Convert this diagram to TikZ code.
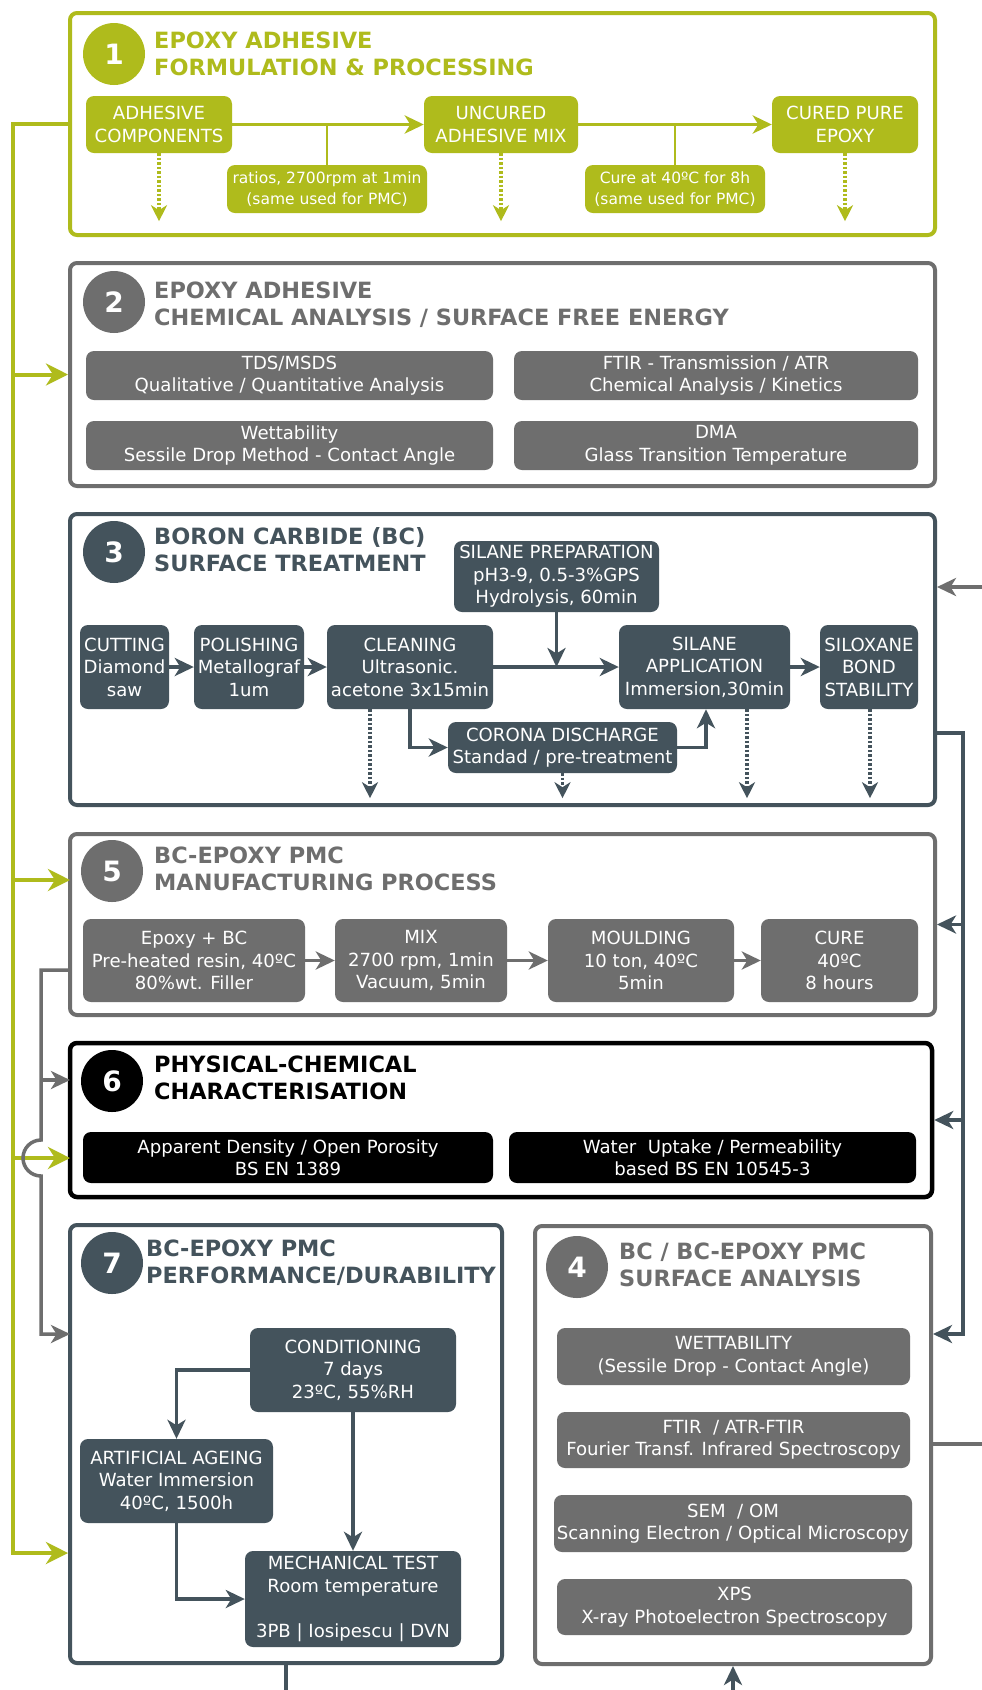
\documentclass[tikz,border=0pt]{standalone}
\usepackage{fontspec}
\setmainfont{DejaVu Sans}
\usetikzlibrary{arrows.meta}
\definecolor{cgreen}{HTML}{AFBB1C}
\definecolor{cgray}{HTML}{6E6E6E}
\definecolor{cslate}{HTML}{44535C}
\tikzset{
 frame/.style={draw, line width=4pt, rounded corners=7pt, fill=white, inner sep=0pt},
 proc/.style={rounded corners=8pt, text=white, align=center, inner sep=0pt, font=\fontsize{18.1}{22.5}\selectfont},
 lbl/.style={proc, font=\fontsize{15.5}{20.5}\selectfont},
 num/.style={circle, text=white, minimum size=62pt, inner sep=0pt, font=\fontsize{28}{28}\selectfont\bfseries},
 ttl/.style={anchor=west, align=left, inner sep=0pt, font=\fontsize{22.4}{27}\selectfont\bfseries},
 tip/.style={-{Stealth[length=19pt,width=18pt,inset=5.5pt]}},
 bigtip/.style={-{Stealth[length=22pt,width=22pt,inset=7pt]}},
 con/.style={line width=3.5pt},
 dotarr/.style={line width=3.5pt, dash pattern=on 2.5pt off 2pt, -{Stealth[length=16pt,width=16pt,inset=5pt]}}
}
\begin{document}
\begin{tikzpicture}[x=1pt,y=-1pt]
\useasboundingbox[fill=white] (0,0) rectangle (982,1690);

% ---------- frames ----------
\node[frame, draw=cgreen, minimum width=865, minimum height=222] (b1) at (502.5,124) {};
\node[frame, draw=cgray, minimum width=865, minimum height=223] (b2) at (502.5,374.5) {};
\node[frame, draw=cslate, minimum width=865, minimum height=291] (b3) at (502.5,659.5) {};
\node[frame, draw=cgray, minimum width=865, minimum height=181] (b5) at (502.5,924.5) {};
\node[frame, draw=black, line width=4.5pt, minimum width=862, minimum height=154] (b6) at (501,1120) {};
\node[frame, draw=cslate, minimum width=432, minimum height=438] (b7) at (286,1444) {};
\node[frame, draw=cgray, minimum width=396, minimum height=438] (b4) at (733,1445) {};

% ---------- headers ----------
\node[num, fill=cgreen] (n1) at (114,54) {1};
\node[ttl, text=cgreen] (t1) at (154,54) {EPOXY ADHESIVE\\FORMULATION \& PROCESSING};
\node[num, fill=cgray] (n2) at (114,302) {2};
\node[ttl, text=cgray] (t2) at (154,305) {EPOXY ADHESIVE\\CHEMICAL ANALYSIS / SURFACE FREE ENERGY};
\node[num, fill=cslate] (n3) at (114,552) {3};
\node[ttl, text=cslate] (t3) at (154,549.5) {BORON CARBIDE (BC)\\SURFACE TREATMENT};
\node[num, fill=cgray] (n5) at (112,871) {5};
\node[ttl, text=cgray] (t5) at (154,869) {BC-EPOXY PMC\\MANUFACTURING PROCESS};
\node[num, fill=black] (n6) at (112,1081) {6};
\node[ttl, text=black] (t6) at (154,1078) {PHYSICAL-CHEMICAL\\CHARACTERISATION};
\node[num, fill=cslate] (n7) at (112,1263) {7};
\node[ttl, text=cslate] (t7) at (146,1263) {BC-EPOXY PMC\\PERFORMANCE/DURABILITY};
\node[num, fill=cgray] (n4) at (577,1267) {4};
\node[ttl, text=cgray] (t4) at (619,1265) {BC / BC-EPOXY PMC\\SURFACE ANALYSIS};

% ---------- box 1 ----------
\node[proc, fill=cgreen, minimum width=146, minimum height=57] (adh) at (159,124.5) {ADHESIVE\\COMPONENTS};
\node[proc, fill=cgreen, minimum width=154, minimum height=57] (unc) at (501,124.5) {UNCURED\\ADHESIVE MIX};
\node[proc, fill=cgreen, minimum width=146, minimum height=57] (cur) at (845,124.5) {CURED PURE\\EPOXY};
\node[lbl, fill=cgreen, minimum width=200, minimum height=48] (lab1) at (327,189) {ratios, 2700rpm at 1min\\(same used for PMC)};
\node[lbl, fill=cgreen, minimum width=180, minimum height=48] (lab2) at (675,189) {Cure at 40ºC for 8h\\(same used for PMC)};
\draw[con, cgreen, tip] (adh.east) -- (unc.west);
\draw[con, cgreen, tip] (unc.east) -- (cur.west);
\draw[cgreen, line width=1.5pt] (lab1.north) -- (lab1.north |- adh.east);
\draw[cgreen, line width=1.5pt] (lab2.north) -- (lab2.north |- unc.east);
\draw[dotarr, cgreen] (adh.south) -- ++(0,68);
\draw[dotarr, cgreen] (unc.south) -- ++(0,68);
\draw[dotarr, cgreen] (cur.south) -- ++(0,68);

% ---------- box 2 ----------
\node[proc, fill=cgray, minimum width=407, minimum height=49] (tds) at (289.5,375.5) {TDS/MSDS\\Qualitative / Quantitative Analysis};
\node[proc, fill=cgray, minimum width=404, minimum height=49] (ftir) at (716,375.5) {FTIR - Transmission / ATR\\Chemical Analysis / Kinetics};
\node[proc, fill=cgray, minimum width=407, minimum height=49] (wet) at (289.5,445.5) {Wettability\\Sessile Drop Method - Contact Angle};
\node[proc, fill=cgray, minimum width=404, minimum height=49] (dma) at (716,445.5) {DMA\\Glass Transition Temperature};

% ---------- box 3 ----------
\node[proc, fill=cslate, minimum width=205, minimum height=71] (sprep) at (556.5,576.5) {SILANE PREPARATION\\pH3-9, 0.5-3\%GPS\\Hydrolysis, 60min};
\node[proc, fill=cslate, minimum width=89, minimum height=84] (cut) at (124.5,667) {CUTTING\\Diamond\\saw};
\node[proc, fill=cslate, minimum width=110, minimum height=84] (pol) at (249,667) {POLISHING\\Metallograf\\1um};
\node[proc, fill=cslate, minimum width=166, minimum height=84] (cle) at (410,667) {CLEANING\\Ultrasonic.\\acetone 3x15min};
\node[proc, fill=cslate, minimum width=171, minimum height=84] (sapp) at (704.5,667) {SILANE\\APPLICATION\\Immersion,30min};
\node[proc, fill=cslate, minimum width=98, minimum height=84] (silox) at (869,667) {SILOXANE\\BOND\\STABILITY};
\node[proc, fill=cslate, minimum width=229, minimum height=51] (cor) at (562.5,747.5) {CORONA DISCHARGE\\Standad / pre-treatment};
\draw[con, cslate, tip] (cut.east) -- (pol.west);
\draw[con, cslate, tip] (pol.east) -- (cle.west);
\draw[con, cslate, tip] (cle.east) -- (sapp.west);
\draw[con, cslate, tip] (sprep.south) -- (sprep.south |- cle.east);
\draw[con, cslate, tip] (sapp.east) -- (silox.west);
\draw[con, cslate, tip] (cle.south) |- (cor.west);
\draw[con, cslate, tip] (cor.east) -| ([xshift=1.5pt]sapp.south);
\draw[dotarr, cslate] ([xshift=-40pt]cle.south) -- ++(0,89);
\draw[dotarr, cslate] (cor.south) -- ++(0,25);
\draw[dotarr, cslate] ([xshift=42.5pt]sapp.south) -- ++(0,89);
\draw[dotarr, cslate] ([xshift=1pt]silox.south) -- ++(0,89);

% ---------- box 5 ----------
\node[proc, fill=cgray, minimum width=222, minimum height=83] (ebc) at (194,960.5) {Epoxy + BC\\Pre-heated resin, 40ºC\\80\%wt. Filler};
\node[proc, fill=cgray, minimum width=172, minimum height=83] (mix) at (421,960.5) {MIX\\2700 rpm, 1min\\Vacuum, 5min};
\node[proc, fill=cgray, minimum width=186, minimum height=83] (mould) at (641,960.5) {MOULDING\\10 ton, 40ºC\\5min};
\node[proc, fill=cgray, minimum width=157, minimum height=83] (cure) at (839.5,960.5) {CURE\\40ºC\\8 hours};
\draw[con, cgray, tip] (ebc.east) -- (mix.west);
\draw[con, cgray, tip] (mix.east) -- (mould.west);
\draw[con, cgray, tip] (mould.east) -- (cure.west);

% ---------- box 6 ----------
\node[proc, fill=black, minimum width=410, minimum height=51] (ad) at (288,1157.5) {Apparent Density / Open Porosity\\BS EN 1389};
\node[proc, fill=black, minimum width=407, minimum height=51] (wu) at (712.5,1157.5) {Water\ \ Uptake / Permeability\\based BS EN 10545-3};

% ---------- box 7 ----------
\node[proc, fill=cslate, minimum width=206, minimum height=84] (cond) at (353,1370) {CONDITIONING\\7 days\\23ºC, 55\%RH};
\node[proc, fill=cslate, minimum width=193, minimum height=84] (age) at (176.5,1481) {ARTIFICIAL AGEING\\Water Immersion\\40ºC, 1500h};
\node[proc, fill=cslate, minimum width=216, minimum height=96] (mech) at (353,1599) {MECHANICAL TEST\\Room temperature\\\mbox{}\\3PB | Iosipescu | DVN};
\draw[con, cslate, tip] (cond.west) -| (age.north);
\draw[con, cslate, tip] (cond.south) -- (mech.north);
\draw[con, cslate, tip] (age.south) |- (mech.west);

% ---------- box 4 ----------
\node[proc, fill=cgray, minimum width=353, minimum height=57] (wet4) at (733.5,1356.5) {WETTABILITY\\(Sessile Drop - Contact Angle)};
\node[proc, fill=cgray, minimum width=353, minimum height=56] (ftir4) at (733.5,1440) {FTIR\ \ / ATR-FTIR\\Fourier Transf. Infrared Spectroscopy};
\node[proc, fill=cgray, minimum width=358, minimum height=57] (sem) at (733,1523.5) {SEM\ \ / OM\\Scanning Electron / Optical Microscopy};
\node[proc, fill=cgray, minimum width=355, minimum height=56] (xps) at (734.5,1607) {XPS\\X-ray Photoelectron Spectroscopy};

% ---------- left green bus ----------
\coordinate (gtop) at (13,124);
\coordinate (gbot) at (13,1553);
\draw[line width=4pt, cgreen, bigtip] (b1.west) -- (gtop) -- (gbot) -- (gbot -| b7.west);
\draw[line width=4pt, cgreen, bigtip] (13,374.5) -- (b2.west);
\draw[line width=4pt, cgreen, bigtip] (13,880) -- (70,880);
\draw[line width=4pt, cgreen, bigtip] (13,1158) -- (70,1158);

% ---------- left gray bus ----------
\coordinate (gyA) at (41,970);
\draw[con, cgray, tip] (b5.west |- gyA) -- (gyA) -- (41,1140) arc[start angle=270, end angle=90, radius=18] -- (41,1334) -- (70,1334);
\draw[con, cgray, tip] (41,1080) -- (70,1080);

% ---------- right side ----------
\coordinate (rin) at (982,587);
\draw[con, cgray, tip] (rin) -- (rin -| b3.east);
\coordinate (rout) at (982,1444);
\draw[con, cgray] (b4.east |- rout) -- (rout);
\coordinate (sA) at (963,733);
\coordinate (sB) at (963,1334);
\draw[con, cslate, tip] (b3.east |- sA) -- (sA) -- (sB) -- (b4.east |- sB);
\draw[con, cslate, tip] (963,924.5) -- (b5.east);
\draw[con, cslate, tip] (963,1120) -- (b6.east);

% ---------- bottom ----------
\coordinate (bL) at (286,1690);
\draw[con, cslate] (b7.south) -- (bL);
\coordinate (bR) at (733,1690);
\draw[con, cslate, tip] (bR) -- (b4.south);
\end{tikzpicture}
\end{document}
